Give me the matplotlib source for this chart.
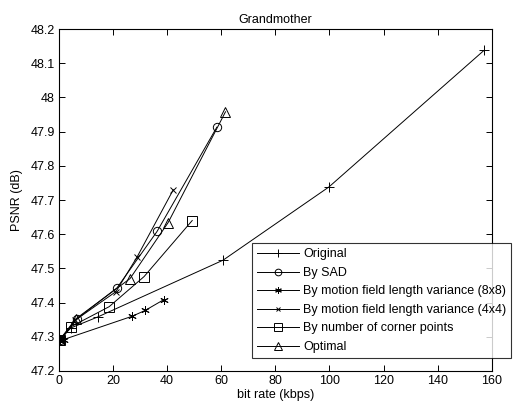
import matplotlib
matplotlib.use('Agg')
import matplotlib.pyplot as plt
from matplotlib.ticker import FuncFormatter, MultipleLocator

plt.rcParams['font.family'] = ['Liberation Sans', 'DejaVu Sans']

# valores (bit rate kbps, PSNR dB)
orig_x = [0.0, 4.5, 14.4, 60.7, 99.8, 157.2]
orig_y = [47.290, 47.326, 47.358, 47.524, 47.738, 48.138]

sad_x = [0.6, 6.8, 21.5, 36.3, 58.4]
sad_y = [47.290, 47.353, 47.443, 47.608, 47.913]

mf8_x = [0.4, 1.8, 27.1, 31.9, 38.9]
mf8_y = [47.290, 47.292, 47.360, 47.377, 47.409]

mf4_x = [0.5, 6.0, 21.1, 28.9, 42.3]
mf4_y = [47.290, 47.348, 47.432, 47.533, 47.730]

corner_x = [0.3, 4.4, 18.6, 31.5, 49.3]
corner_y = [47.290, 47.329, 47.388, 47.476, 47.640]

opt_x = [0.2, 6.2, 26.3, 40.4, 61.6]
opt_y = [47.290, 47.352, 47.470, 47.634, 47.958]

etiquetas = ['Original', 'By SAD', 'By motion field length variance (8x8)',
             'By motion field length variance (4x4)', 'By number of corner points', 'Optimal']

fig = plt.figure(figsize=(5.16, 4.09), dpi=100)
ax = fig.add_axes([0.114, 0.093, 0.839, 0.836])

st = dict(color='black', lw=0.7, mfc='none', mec='black', mew=0.7)
ax.plot(orig_x, orig_y, marker='+', ms=7, label=etiquetas[0], **st)
ax.plot(sad_x, sad_y, marker='o', ms=6, label=etiquetas[1], **st)
ax.plot(mf8_x, mf8_y, marker=(6, 2, 0), ms=6, label=etiquetas[2], **st)
ax.plot(mf4_x, mf4_y, marker='x', ms=4, label=etiquetas[3], **st)
ax.plot(corner_x, corner_y, marker='s', ms=6.5, label=etiquetas[4], **st)
ax.plot(opt_x, opt_y, marker='^', ms=6.5, label=etiquetas[5], **st)

ax.set_xlim(0, 160)
ax.set_ylim(47.2, 48.2)
ax.xaxis.set_major_locator(MultipleLocator(20))
ax.yaxis.set_major_locator(MultipleLocator(0.1))
ax.yaxis.set_major_formatter(FuncFormatter(lambda v, p: '%g' % round(v, 1)))
ax.tick_params(direction='in', top=True, right=True, length=4, width=0.7,
               labelsize=9, colors='black', pad=3)
for s in ax.spines.values():
  s.set_linewidth(0.8)

ax.set_title('Grandmother', fontsize=9, pad=4)
ax.set_xlabel('bit rate (kbps)', fontsize=9, labelpad=1)
ax.set_ylabel('PSNR (dB)', fontsize=9, labelpad=5)

leg = ax.legend(loc='lower left', bbox_to_anchor=(0.488, 0.125), bbox_transform=fig.transFigure,
                fontsize=9, frameon=True, fancybox=False, edgecolor='black',
                handlelength=3.4, handletextpad=0.3, labelspacing=0.52,
                borderpad=0.4, borderaxespad=0, markerscale=0.8)
leg.get_frame().set_linewidth(0.8)
leg.set_in_layout(False)

fig.savefig('out.png', dpi=100)
